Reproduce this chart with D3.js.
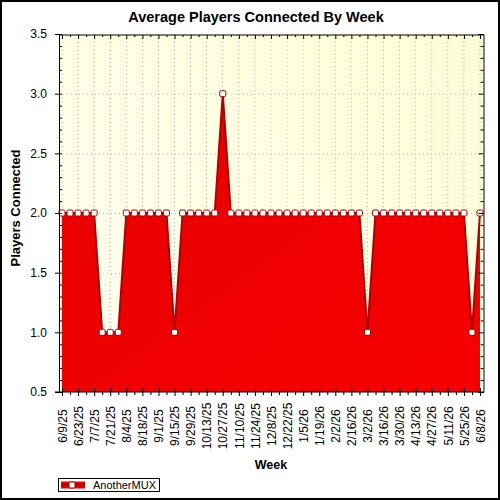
<!DOCTYPE html>
<html>
<head>
<meta charset="utf-8">
<script src="https://cdn.jsdelivr.net/npm/d3@7"></script>
<style>
  body { margin: 0; background: #fff; }
  svg { display: block; font-family: "Liberation Sans", Arial, sans-serif; }
</style>
</head>
<body>
<svg width="500" height="500"></svg>
<script>
// weekly categories
const weeks = [
  '6/9/25','6/16/25','6/23/25','6/30/25','7/7/25','7/14/25','7/21/25','7/28/25',
  '8/4/25','8/11/25','8/18/25','8/25/25','9/1/25','9/8/25','9/15/25','9/22/25',
  '9/29/25','10/6/25','10/13/25','10/20/25','10/27/25','11/3/25','11/10/25','11/17/25',
  '11/24/25','12/1/25','12/8/25','12/15/25','12/22/25','12/29/25','1/5/26','1/12/26',
  '1/19/26','1/26/26','2/2/26','2/9/26','2/16/26','2/23/26','3/2/26','3/9/26',
  '3/16/26','3/23/26','3/30/26','4/6/26','4/13/26','4/20/26','4/27/26','5/4/26',
  '5/11/26','5/18/26','5/25/26','6/1/26','6/8/26'
];
// average players connected, AnotherMUX
const players = [
  2,2,2,2,2,1,1,1,2,2,2,2,2,2,1,2,2,2,2,2,3,2,2,2,2,2,
  2,2,2,2,2,2,2,2,2,2,2,2,1,2,2,2,2,2,2,2,2,2,2,2,2,1,2
];
const yTicks = [0.5, 1.0, 1.5, 2.0, 2.5, 3.0, 3.5];
const seriesName = 'AnotherMUX';

const svg = d3.select('svg');
const width = +svg.attr('width');
const height = +svg.attr('height');

const frame = { left: 59, right: 483.5, top: 34, bottom: 392 };
const data = weeks.map((w, i) => ({ week: w, value: players[i] }));

const defs = svg.append('defs');
const bg = defs.append('linearGradient').attr('id', 'bg')
  .attr('x1', '0%').attr('y1', '100%').attr('x2', '100%').attr('y2', '0%');
bg.append('stop').attr('offset', '0%').attr('stop-color', '#fffff2');
bg.append('stop').attr('offset', '100%').attr('stop-color', '#ffffd6');
const red = defs.append('linearGradient').attr('id', 'red')
  .attr('x1', '0%').attr('y1', '0%').attr('x2', '100%').attr('y2', '100%');
red.append('stop').attr('offset', '0%').attr('stop-color', '#e60000');
red.append('stop').attr('offset', '100%').attr('stop-color', '#f80000');

// outer border
svg.append('rect')
  .attr('x', 1).attr('y', 1).attr('width', width - 2).attr('height', height - 2)
  .attr('fill', '#fff').attr('stroke', '#000').attr('stroke-width', 2);

const xScale = d3.scalePoint().domain(weeks).range([62, 480]);
const yScale = d3.scaleLinear().domain([0.5, 3.5]).range([frame.bottom, frame.top]);

// plot background
svg.append('rect')
  .attr('x', frame.left).attr('y', frame.top)
  .attr('width', frame.right - frame.left).attr('height', frame.bottom - frame.top)
  .attr('fill', 'url(#bg)');

const majorWeeks = weeks.filter((d, i) => i % 2 === 0);
const minorWeeks = weeks.filter((d, i) => i % 2 === 1);

// dotted grid
const grid = svg.append('g').attr('stroke', '#c4c4c4').attr('stroke-dasharray', '1,3');
grid.selectAll('.vg').data(majorWeeks).enter().append('line')
  .attr('x1', d => xScale(d)).attr('x2', d => xScale(d))
  .attr('y1', frame.top).attr('y2', frame.bottom);
grid.selectAll('.hg').data(yTicks.slice(1, -1)).enter().append('line')
  .attr('x1', frame.left).attr('x2', frame.right)
  .attr('y1', d => yScale(d) + 0.5).attr('y2', d => yScale(d) + 0.5);

// area + line
const area = d3.area()
  .x(d => xScale(d.week))
  .y0(frame.bottom)
  .y1(d => yScale(d.value));
svg.append('path').datum(data).attr('d', area).attr('fill', 'url(#red)');

const line = d3.line().x(d => xScale(d.week)).y(d => yScale(d.value));
svg.append('path').datum(data).attr('d', line)
  .attr('fill', 'none').attr('stroke', '#b00000').attr('stroke-width', 2);

svg.selectAll('.marker').data(data).enter().append('rect')
  .attr('x', d => xScale(d.week) - 3).attr('y', d => yScale(d.value) - 3)
  .attr('width', 6).attr('height', 6).attr('rx', 1.5)
  .attr('fill', '#fff').attr('stroke', '#a00000').attr('stroke-width', 1);

// axes
const minorY = d3.range(0.5, 3.5001, 0.1)
  .map(v => Math.round(v * 10) / 10)
  .filter(v => !yTicks.includes(v));

// left axis
const leftAxis = svg.append('g')
  .attr('transform', `translate(${frame.left},0)`)
  .call(d3.axisLeft(yScale).tickValues(yTicks).tickSize(4).tickFormat(d3.format('.1f')));
leftAxis.selectAll('.tick line').attr('x1', 3);
leftAxis.selectAll('.tick text').attr('x', -12).attr('font-size', 12).attr('fill', '#000')
  .attr('font-family', '"Liberation Sans", Arial, sans-serif');
svg.append('g').attr('transform', `translate(${frame.left},0)`)
  .call(d3.axisRight(yScale).tickValues(minorY).tickSize(3).tickFormat(''))
  .select('.domain').remove();

// right axis (ticks inward)
svg.append('g').attr('transform', `translate(${frame.right},0)`)
  .call(d3.axisLeft(yScale).tickValues(yTicks).tickSize(5).tickFormat(''));
svg.append('g').attr('transform', `translate(${frame.right},0)`)
  .call(d3.axisLeft(yScale).tickValues(minorY).tickSize(3).tickFormat(''))
  .select('.domain').remove();

// top axis (ticks inward)
const topAxis = svg.append('g').attr('transform', `translate(0,${frame.top + 1})`)
  .call(d3.axisBottom(xScale).tickValues(majorWeeks).tickSize(4).tickFormat(''));
topAxis.select('.domain').attr('d', `M${frame.left},0H${frame.right}`);
svg.append('g').attr('transform', `translate(0,${frame.top + 1})`)
  .call(d3.axisBottom(xScale).tickValues(minorWeeks).tickSize(2).tickFormat(''))
  .select('.domain').remove();

// bottom axis
const bottomAxis = svg.append('g').attr('transform', `translate(0,${frame.bottom})`)
  .call(d3.axisBottom(xScale).tickValues(majorWeeks).tickSize(4));
bottomAxis.select('.domain').attr('d', `M${frame.left - 4},0H${frame.right}`);
bottomAxis.selectAll('.tick line').attr('y1', -4);
bottomAxis.selectAll('.tick text')
  .attr('y', 0).attr('dy', '0.35em')
  .attr('transform', 'translate(0,34) rotate(-90)')
  .attr('text-anchor', 'middle')
  .attr('font-size', 12).attr('fill', '#000')
  .attr('font-family', '"Liberation Sans", Arial, sans-serif');
svg.append('g').attr('transform', `translate(0,${frame.bottom})`)
  .call(d3.axisBottom(xScale).tickValues(minorWeeks).tickSize(3).tickFormat(''))
  .select('.domain').remove();

svg.selectAll('.domain, .tick line').attr('stroke', '#000');

// titles
svg.append('text')
  .attr('x', 256).attr('y', 22)
  .attr('text-anchor', 'middle')
  .attr('font-size', 14.5).attr('font-weight', 'bold')
  .text('Average Players Connected By Week');

svg.append('text')
  .attr('transform', 'translate(20,208) rotate(-90)')
  .attr('text-anchor', 'middle')
  .attr('font-size', 13).attr('font-weight', 'bold')
  .text('Players Connected');

svg.append('text')
  .attr('x', 271).attr('y', 469)
  .attr('text-anchor', 'middle')
  .attr('font-size', 12.5).attr('font-weight', 'bold')
  .text('Week');

// legend
const legend = svg.append('g');
legend.append('rect')
  .attr('x', 58.5).attr('y', 478.5).attr('width', 101).attr('height', 13)
  .attr('fill', '#fff').attr('stroke', '#000');
legend.append('rect')
  .attr('x', 61).attr('y', 481.5).attr('width', 24).attr('height', 7)
  .attr('fill', '#e80000');
legend.append('line')
  .attr('x1', 61).attr('x2', 85).attr('y1', 485).attr('y2', 485)
  .attr('stroke', '#b00000').attr('stroke-width', 2);
legend.append('rect')
  .attr('x', 69).attr('y', 482).attr('width', 6).attr('height', 6).attr('rx', 1)
  .attr('fill', '#fff').attr('stroke', '#a00000');
legend.append('text')
  .attr('x', 93).attr('y', 489)
  .attr('font-size', 11)
  .text(seriesName);
</script>
</body>
</html>
